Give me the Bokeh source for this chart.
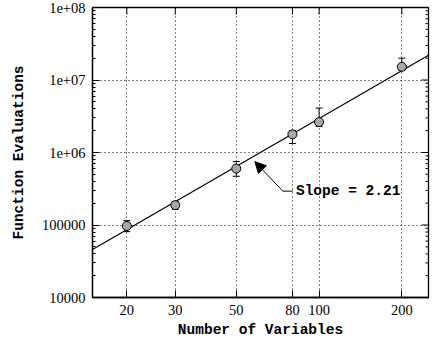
import math
from bokeh.plotting import figure
from bokeh.models import (FixedTicker, Whisker, ColumnDataSource, Arrow,
                          NormalHead, TeeHead, Label, Range1d)
from bokeh.embed import file_html
from bokeh.resources import INLINE

# ---- data ----
n_vars = [20, 30, 50, 80, 100, 200]
evals = [97000, 188000, 600000, 1780000, 2630000, 15200000]
err_low = [81000, 165000, 470000, 1330000, 2300000, 13700000]
err_high = [115000, 210000, 750000, 2000000, 4100000, 20000000]

fit_x = [15, 250]
fit_y = [46000, 22000000]

x_ticks = [20, 30, 50, 80, 100, 200]
y_ticks = [1e4, 1e5, 1e6, 1e7, 1e8]
y_tick_labels = ["10000", "100000", "1e+06", "1e+07", "1e+08"]
y_minor = [k * 10 ** e for e in range(4, 8) for k in range(2, 10)]
slope_label = "Slope = 2.21"

X_MIN, X_MAX = 15, 250
Y_MIN, Y_MAX = 1e4, 1e8

MONO = "Liberation Mono"
SERIF = "Liberation Serif"

p = figure(width=431, height=340, x_axis_type="log", y_axis_type="log",
           x_range=Range1d(X_MIN, X_MAX), y_range=Range1d(Y_MIN, Y_MAX),
           output_backend="svg", toolbar_location=None,
           min_border_left=92, min_border_right=3, min_border_top=7,
           min_border_bottom=42)
p.background_fill_color = "white"
p.border_fill_color = "white"
p.outline_line_color = "black"
p.outline_line_width = 1.3

def style_axis(ax, ticks, minor):
    ax.ticker = FixedTicker(ticks=ticks, minor_ticks=minor)
    ax.major_tick_in = 7
    ax.major_tick_out = 0
    ax.minor_tick_in = 3
    ax.minor_tick_out = 0
    ax.axis_line_color = "black"
    ax.axis_line_width = 1.3
    ax.major_tick_line_color = "black"
    ax.minor_tick_line_color = "black"
    ax.major_label_text_font = SERIF
    ax.major_label_text_font_size = "14.5px"
    ax.major_label_text_color = "black"
    ax.major_label_standoff = 7
    ax.axis_label_text_color = "black"

xa = p.xaxis[0]
style_axis(xa, x_ticks, [])
xa.major_label_overrides = {t: str(t) for t in x_ticks}
xa.axis_label = "Number of Variables"
xa.axis_label_text_font = MONO
xa.axis_label_text_font_style = "bold"
xa.axis_label_text_font_size = "14.5px"
xa.axis_label_standoff = 4

ya = p.yaxis[0]
style_axis(ya, y_ticks, y_minor)
ya.major_label_overrides = dict(zip(y_ticks, y_tick_labels))
ya.axis_label = "Function Evaluations"
ya.axis_label_text_font = MONO
ya.axis_label_text_font_style = "bold"
ya.axis_label_text_font_size = "14.5px"
ya.axis_label_standoff = 12

# mirrored ticks on right and top (half of each dash is clipped by the frame)
p.scatter([X_MAX] * len(y_ticks), y_ticks, marker="dash", size=14,
          line_color="black", line_width=1)
p.scatter([X_MAX] * len(y_minor), y_minor, marker="dash", size=6,
          line_color="black", line_width=1)
p.scatter(x_ticks, [Y_MAX] * len(x_ticks), marker="dash", size=14,
          angle=math.pi / 2, line_color="black", line_width=1)

# grid
p.xgrid.ticker = FixedTicker(ticks=x_ticks)
p.ygrid.ticker = FixedTicker(ticks=[t for t in y_ticks if Y_MIN < t < Y_MAX])
for g in (p.xgrid[0], p.ygrid[0]):
    g.grid_line_color = "black"
    g.grid_line_dash = "1 3"
    g.grid_line_width = 1
    g.grid_line_alpha = 1
    g.minor_grid_line_color = None

# fit line
p.line(fit_x, fit_y, line_color="black", line_width=1.2)

# error bars
src = ColumnDataSource(dict(x=n_vars, y=evals, lo=err_low, hi=err_high))
wh = Whisker(source=src, base="x", lower="lo", upper="hi", dimension="height",
             line_color="black", line_width=1,
             upper_head=TeeHead(size=7, line_color="black", line_width=1),
             lower_head=TeeHead(size=7, line_color="black", line_width=1))
p.add_layout(wh)

# markers
p.scatter("x", "y", source=src, size=9, fill_color="#a8a8a8",
          line_color="black", line_width=1)

# annotation arrow
p.add_layout(Arrow(end=NormalHead(size=11, fill_color="black", line_color="black"),
                   x_start=73.8, y_start=2.93e5, x_end=58.4, y_end=7.5e5,
                   line_color="black", line_width=1))
p.line([73.8, 80.3], [2.93e5, 2.93e5], line_color="black", line_width=1)
p.add_layout(Label(x=82.4, y=2.93e5, text=slope_label, text_font=MONO,
                   text_font_style="bold", text_font_size="14.5px",
                   text_baseline="middle", text_align="left", text_color="black"))

open("out.html", "w").write(file_html(p, INLINE))
